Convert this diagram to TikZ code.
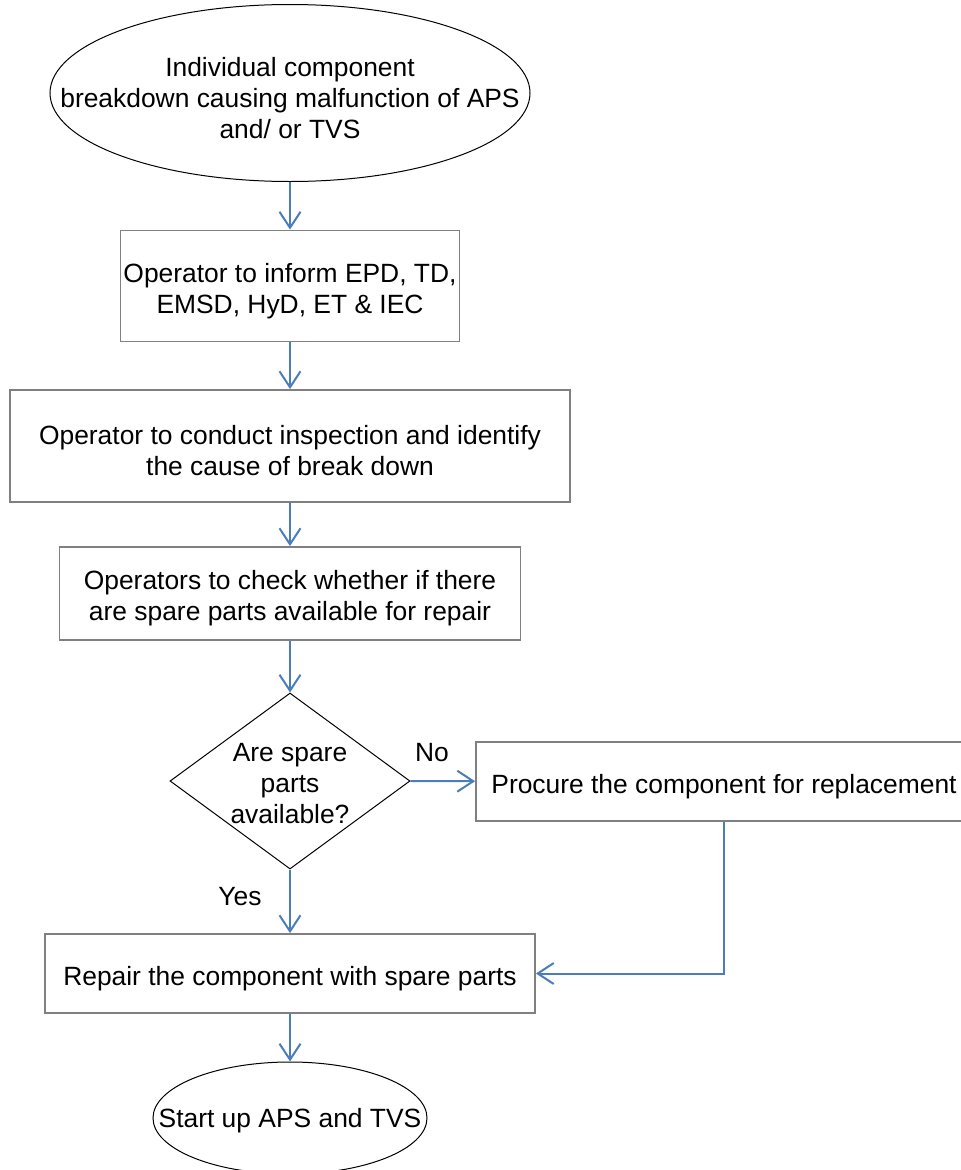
\documentclass[tikz,border=0pt]{standalone}
\usepackage{fontspec}
\setmainfont{Liberation Sans}
\usetikzlibrary{arrows.meta,shapes.geometric}
\definecolor{flowblue}{RGB}{74,126,187}
\definecolor{boxgray}{RGB}{128,128,128}

\begin{document}
\begin{tikzpicture}[x=1pt,y=-1pt,font=\fontsize{26.4}{31}\selectfont,
    boxtext/.style={align=center,yshift=-5pt},
    stepbox/.style={draw=boxgray,line width=1.8pt,fill=white,inner sep=0pt},
    terminal/.style={draw=black,line width=1pt,ellipse,inner sep=0pt},
    decision/.style={draw=black,line width=1pt,diamond,inner sep=0pt},
    flow/.style={draw=flowblue,line width=2pt,-{Straight Barb[length=16pt,width=21pt]}}]
    \useasboundingbox (0,0) rectangle (961,1170);
    \node[terminal,minimum width=480pt,minimum height=177pt,
      label={[boxtext]center:Individual component\\breakdown causing malfunction of APS\\and/ or TVS}] (fail) at (290,93) {};
    \node[stepbox,minimum width=339pt,minimum height=111pt,
      label={[boxtext]center:{Operator to inform EPD, TD,\\EMSD, HyD, ET \& IEC}}] (inform) at (290,286) {};
    \node[stepbox,minimum width=560pt,minimum height=112pt,
      label={[boxtext]center:Operator to conduct inspection and identify\\the cause of break down}] (inspect) at (290,446) {};
    \node[stepbox,minimum width=461pt,minimum height=93pt,
      label={[boxtext]center:Operators to check whether if there\\are spare parts available for repair}] (check) at (290,593.5) {};
    \node[decision,minimum width=240pt,minimum height=176pt,
      label={[boxtext,yshift=2pt]center:Are spare\\parts\\available?}] (avail) at (290,781) {};
    \node[stepbox,minimum width=496pt,minimum height=79pt,
      label={[boxtext]center:Procure the component for replacement}] (procure) at (724,781.5) {};
    \node[stepbox,minimum width=490pt,minimum height=79pt,
      label={[boxtext]center:Repair the component with spare parts}] (repair) at (290,973.5) {};
    \node[terminal,minimum width=274pt,minimum height=112pt,
      label={[boxtext,yshift=2pt]center:Start up APS and TVS}] (done) at (290,1118) {};
    \node (nolbl) at (432,753) {No};
    \node (yeslbl) at (240,897) {Yes};
    \draw[flow] (fail) -- (inform);
    \draw[flow] (inform) -- (inspect);
    \draw[flow] (inspect) -- (check);
    \draw[flow] (check) -- (avail);
    \draw[flow] (avail) -- (procure);
    \draw[flow] (avail) -- (repair);
    \draw[flow] (procure.south) |- (repair.east);
    \draw[flow] (repair) -- (done);
  \end{tikzpicture}
\end{document}
